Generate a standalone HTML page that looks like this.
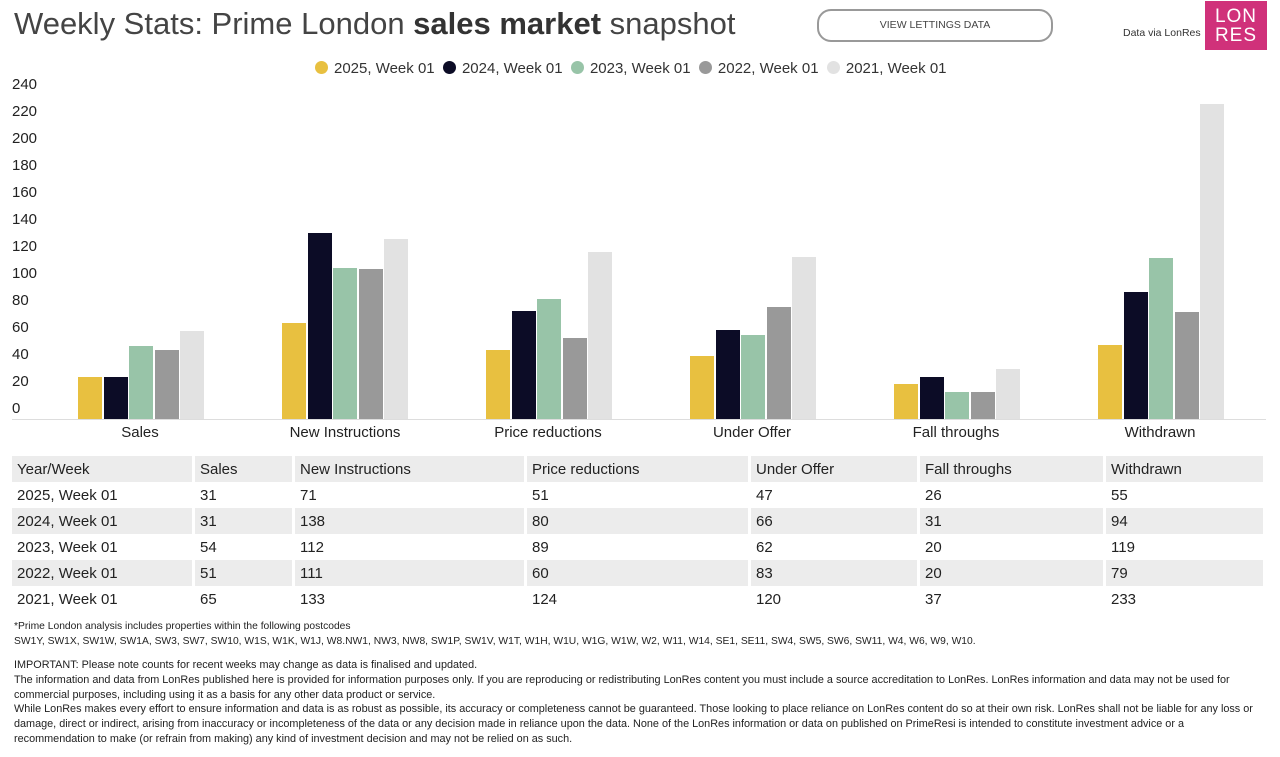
<!DOCTYPE html>
<html><head><meta charset="utf-8"><style>
*{margin:0;padding:0;box-sizing:border-box}
body{width:1280px;height:757px;background:#fff;font-family:"Liberation Sans",sans-serif;color:#222;position:relative;overflow:hidden}
.a{position:absolute;white-space:nowrap}
.bar{position:absolute;width:24px}
.yl{position:absolute;left:12px;font-size:15px;color:#222}
.xl{position:absolute;top:424px;font-size:15px;width:200px;text-align:center;color:#222}
table{position:absolute;left:12px;top:456px;width:1254px;border-collapse:separate;border-spacing:0;font-size:15px}
td{height:26px;padding-left:5px;border-right:3px solid #fff}
tr.s td{background:#ececec}
.ft{position:absolute;left:14px;font-size:10.3px;color:#222;line-height:14.5px}
</style></head><body>
<div class="a" style="left:14px;top:6px;font-size:31px;color:#444">Weekly Stats: Prime London <b style="color:#333">sales market</b> snapshot</div>
<div class="a" style="left:817px;top:9px;width:236px;height:33px;border:2px solid #999;border-radius:14px;font-size:10.5px;color:#444;text-align:center;line-height:29px">VIEW LETTINGS DATA</div>
<div class="a" style="left:1123px;top:27px;font-size:10.5px;color:#333">Data via LonRes</div>
<div class="a" style="left:1205px;top:1px;width:62px;height:49px;background:#d0317a;color:#fff;font-size:19px;line-height:19px;text-align:center;padding-top:6px;letter-spacing:1px">LON<br>RES</div>
<div class="a" style="left:315px;top:60px;font-size:15px;color:#333">
<span style="display:inline-block;width:13px;height:13px;border-radius:50%;background:#e8c040;vertical-align:-1px;margin-right:6px"></span>2025, Week 01&nbsp;
<span style="display:inline-block;width:13px;height:13px;border-radius:50%;background:#0c0c26;vertical-align:-1px;margin-right:6px"></span>2024, Week 01&nbsp;
<span style="display:inline-block;width:13px;height:13px;border-radius:50%;background:#98c4a8;vertical-align:-1px;margin-right:6px"></span>2023, Week 01&nbsp;
<span style="display:inline-block;width:13px;height:13px;border-radius:50%;background:#999;vertical-align:-1px;margin-right:6px"></span>2022, Week 01&nbsp;
<span style="display:inline-block;width:13px;height:13px;border-radius:50%;background:#e2e2e2;vertical-align:-1px;margin-right:6px"></span>2021, Week 01</div>
<div id="y"></div><div id="b"></div>
<div class="a" style="left:12px;top:419px;width:1254px;height:1px;background:#ddd"></div>
<div class="xl" style="left:40px">Sales</div>
<div class="xl" style="left:245px">New Instructions</div>
<div class="xl" style="left:448px">Price reductions</div>
<div class="xl" style="left:652px">Under Offer</div>
<div class="xl" style="left:856px">Fall throughs</div>
<div class="xl" style="left:1060px">Withdrawn</div>
<table>
<tr class="s"><td style="width:183px">Year/Week</td><td style="width:100px">Sales</td><td style="width:232px">New Instructions</td><td style="width:224px">Price reductions</td><td style="width:169px">Under Offer</td><td style="width:186px">Fall throughs</td><td>Withdrawn</td></tr>
<tr><td>2025, Week 01</td><td>31</td><td>71</td><td>51</td><td>47</td><td>26</td><td>55</td></tr>
<tr class="s"><td>2024, Week 01</td><td>31</td><td>138</td><td>80</td><td>66</td><td>31</td><td>94</td></tr>
<tr><td>2023, Week 01</td><td>54</td><td>112</td><td>89</td><td>62</td><td>20</td><td>119</td></tr>
<tr class="s"><td>2022, Week 01</td><td>51</td><td>111</td><td>60</td><td>83</td><td>20</td><td>79</td></tr>
<tr><td>2021, Week 01</td><td>65</td><td>133</td><td>124</td><td>120</td><td>37</td><td>233</td></tr>
</table>
<div class="ft" style="top:620px">*Prime London analysis includes properties within the following postcodes<br>SW1Y, SW1X, SW1W, SW1A, SW3, SW7, SW10, W1S, W1K, W1J, W8.NW1, NW3, NW8, SW1P, SW1V, W1T, W1H, W1U, W1G, W1W, W2, W11, W14, SE1, SE11, SW4, SW5, SW6, SW11, W4, W6, W9, W10.</div>
<div class="ft" style="top:658px;font-size:10.85px;line-height:14.8px">IMPORTANT: Please note counts for recent weeks may change as data is finalised and updated.<br>The information and data from LonRes published here is provided for information purposes only. If you are reproducing or redistributing LonRes content you must include a source accreditation to LonRes. LonRes information and data may not be used for<br>commercial purposes, including using it as a basis for any other data product or service.<br>While LonRes makes every effort to ensure information and data is as robust as possible, its accuracy or completeness cannot be guaranteed. Those looking to place reliance on LonRes content do so at their own risk. LonRes shall not be liable for any loss or<br>damage, direct or indirect, arising from inaccuracy or incompleteness of the data or any decision made in reliance upon the data. None of the LonRes information or data on published on PrimeResi is intended to constitute investment advice or a<br>recommendation to make (or refrain from making) any kind of investment decision and may not be relied on as such.</div>
<script>
var y='';for(var i=0;i<=12;i++){y+='<div class="yl" style="top:'+(400-i*27)+'px">'+(i*20)+'</div>'}
document.getElementById('y').innerHTML=y;
var d=[[31,71,51,47,26,55],[31,138,80,66,31,94],[54,112,89,62,20,119],[51,111,60,83,20,79],[65,133,124,120,37,233]];
var c=['#e8c040','#0c0c26','#98c4a8','#999','#e2e2e2'];
var s='';for(var g=0;g<6;g++)for(var k=0;k<5;k++){var h=d[k][g]*1.35;var x=78+g*204+k*25.5;
s+='<div class="bar" style="left:'+x+'px;top:'+(419-h)+'px;height:'+h+'px;background:'+c[k]+'"></div>'}
document.getElementById('b').innerHTML=s;
</script>
</body></html>
